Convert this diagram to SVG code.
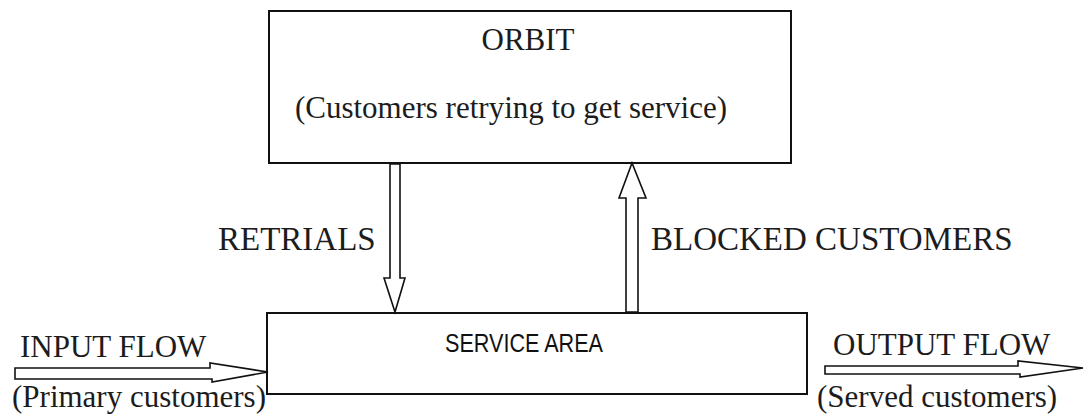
<svg xmlns="http://www.w3.org/2000/svg" width="1085" height="419" viewBox="0 0 1085 419">
  <style>
    .box { fill: #ffffff; stroke: #111111; stroke-width: 2; }
    .flow { fill: #ffffff; stroke: #111111; stroke-width: 1.6; stroke-linejoin: miter; }
    .serif { font-family: "Liberation Serif", "Times New Roman", serif; font-size: 31px; fill: #1c1c1c; }
    .label { font-size: 33px; }
    .sans { font-family: "Liberation Sans", Arial, sans-serif; font-size: 25px; fill: #111111; }
  </style>
  <rect x="0" y="0" width="1085" height="419" fill="#ffffff"/>

  <!-- Orbit: pool of customers waiting to retry -->
  <g id="orbit">
    <rect class="box" x="269" y="11" width="522" height="152"/>
    <text class="serif" x="528" y="50" text-anchor="middle">ORBIT</text>
    <text class="serif" x="511" y="118" text-anchor="middle" font-size="31.8">(Customers retrying to get service)</text>
  </g>

  <!-- Service area -->
  <g id="service-area">
    <rect class="box" x="267" y="313" width="540" height="81"/>
    <text class="sans" x="445" y="352" textLength="158" lengthAdjust="spacingAndGlyphs">SERVICE AREA</text>
  </g>

  <!-- Hollow block arrows between the parts of the system -->
  <g id="connectors">
    <path id="retrials" class="flow" d="M390,164 L390,278 L384,278 L395,312 L405,278 L400,278 L400,164 Z"/>
    <path id="blocked" class="flow" d="M626,312 L626,198 L619,198 L632,163 L646,198 L638,198 L638,312 Z"/>
    <path id="input" class="flow" d="M15,368 L210,368 L210,363 L268,372 L212,382 L212,379 L15,379 Z"/>
    <path id="output" class="flow" d="M825,366 L1018,366 L1018,361 L1083,368 L1020,377 L1020,374 L825,374 Z"/>
  </g>

  <!-- Connector labels -->
  <g id="labels">
    <text class="serif label" x="218" y="250">RETRIALS</text>
    <text class="serif label" x="651" y="250">BLOCKED CUSTOMERS</text>
    <text class="serif" x="20" y="357">INPUT FLOW</text>
    <text class="serif" x="12" y="407">(Primary customers)</text>
    <text class="serif" x="833" y="355">OUTPUT FLOW</text>
    <text class="serif" x="817" y="407">(Served customers)</text>
  </g>
</svg>
